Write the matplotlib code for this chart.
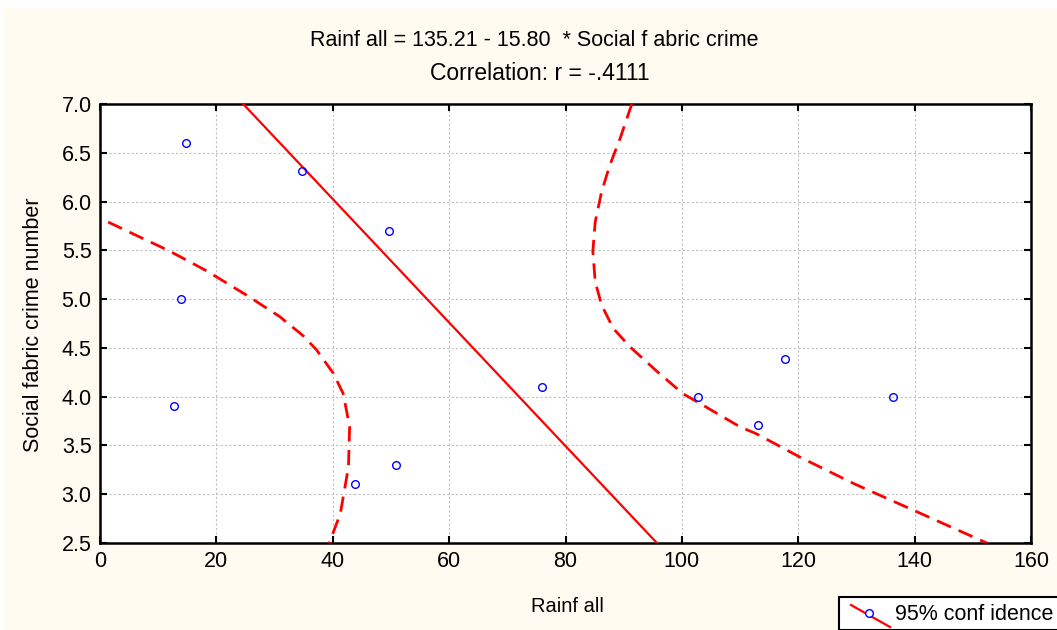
import matplotlib
matplotlib.use("Agg")
import matplotlib.pyplot as plt
import numpy as np
from matplotlib.lines import Line2D
from matplotlib.patches import Rectangle

# ---- data ----
rainfall = [14.8, 34.7, 49.7, 13.9, 12.7, 43.8, 50.9, 76.0, 102.8, 113.0, 117.8, 136.2]
crime = [6.60, 6.31, 5.70, 5.00, 3.90, 3.10, 3.30, 4.10, 4.00, 3.71, 4.39, 4.00]

intercept = 135.21
slope = -15.80

# 95% confidence band
left_band_x = [1.4, 6.0, 11.7, 15.5, 18.3, 25.2, 30.9, 35.0, 37.2, 40.1, 41.8, 42.9, 42.7, 41.3, 39.4]
left_band_y = [5.79, 5.66, 5.50, 5.38, 5.29, 5.04, 4.82, 4.62, 4.48, 4.24, 4.03, 3.69, 3.28, 2.80, 2.50]
right_band_x = [91.4, 89.4, 87.6, 86.2, 85.1, 84.7, 85.1, 86.2, 88.2, 91.1, 95.7, 100.2, 103.7,
                110.0, 112.8, 120.3, 129.5, 140.4, 152.4]
right_band_y = [7.00, 6.65, 6.37, 6.10, 5.79, 5.49, 5.18, 4.94, 4.70, 4.51, 4.26, 4.03, 3.91,
                3.69, 3.62, 3.38, 3.11, 2.82, 2.50]

title1 = "Rainf all = 135.21 - 15.80  * Social f abric crime"
title2 = "Correlation: r = -.4111"
xlabel = "Rainf all"
ylabel = "Social fabric crime number"
legend_label = "95% conf idence"
xticks = [0, 20, 40, 60, 80, 100, 120, 140, 160]
yticks = [2.5, 3.0, 3.5, 4.0, 4.5, 5.0, 5.5, 6.0, 6.5, 7.0]

W, H = 1057, 630
bg = "#FFFBF0"
font = ["Liberation Sans", "DejaVu Sans"]
fig = plt.figure(figsize=(W / 100, H / 100), dpi=100, facecolor="white")
fig.patches.append(Rectangle((4 / W, 0), 1 - 4 / W, 1 - 8 / H, transform=fig.transFigure,
                             facecolor=bg, edgecolor="none", zorder=-10))

ax = fig.add_axes([100 / W, 1 - 543 / H, (1031 - 100) / W, (543 - 104) / H])
ax.set_facecolor("white")

yy = np.array([yticks[0], yticks[-1]])
ax.plot(intercept + slope * yy, yy, color="#FF0000", lw=1.6, zorder=3)
ax.plot(left_band_x, left_band_y, color="#FF0000", lw=2.0, dashes=(5.5, 3), zorder=3)
ax.plot(right_band_x, right_band_y, color="#FF0000", lw=2.0, dashes=(5.5, 3), zorder=3)
ax.plot(rainfall, crime, linestyle="none", marker="o", markersize=5.5, markerfacecolor="none",
        markeredgecolor="#0000FF", markeredgewidth=1.0, zorder=4)

ax.set_xlim(0, 160)
ax.set_ylim(2.5, 7.0)
ax.set_xticks(xticks)
ax.set_yticks(yticks)
ax.set_xticklabels([str(t) for t in xticks])
ax.set_yticklabels([f"{t:.1f}" for t in yticks])
ax.grid(True, color="#C0C0C0", linestyle=(0, (2, 2)), linewidth=0.8)
ax.set_axisbelow(True)
for s in ax.spines.values():
    s.set_linewidth(1.8)
    s.set_color("black")
ax.tick_params(direction="in", length=5, width=1.5, top=True, right=True,
               labelsize=15.5, pad=6, colors="black")
for lab in ax.get_xticklabels() + ax.get_yticklabels():
    lab.set_fontfamily(font)

fig.text(534 / W, 1 - 40 / H, title1, ha="center", va="center", fontsize=15.5, family=font)
fig.text(540 / W, 1 - 74 / H, title2, ha="center", va="center", fontsize=16.5, family=font)
fig.text(567 / W, 1 - 606 / H, xlabel, ha="center", va="center", fontsize=14.5, family=font)
fig.text(34 / W, 1 - 325 / H, ylabel, ha="center", va="center", rotation=90, fontsize=15.5,
         family=font)

# legend box (partly cut off by the figure edge, as in reference)
fig.patches.append(Rectangle((839 / W, 0), 1, 1 - 597 / H, transform=fig.transFigure,
                             facecolor="white", edgecolor="black", linewidth=1.5, zorder=5,
                             clip_on=False))
fig.lines.append(Line2D([851 / W, 890 / W], [1 - 605 / H, 1 - 627 / H], transform=fig.transFigure,
                        color="#FF0000", lw=1.6, zorder=6))
fig.lines.append(Line2D([869 / W], [1 - 613 / H], transform=fig.transFigure, marker="o",
                        markersize=5.5, markerfacecolor="white", markeredgecolor="#0000FF",
                        markeredgewidth=1.0, zorder=7))
fig.text(895 / W, 1 - 615 / H, legend_label, ha="left", va="center", fontsize=15.5,
         family=font, zorder=7)

fig.savefig("out.png", dpi=100, facecolor=fig.get_facecolor())
